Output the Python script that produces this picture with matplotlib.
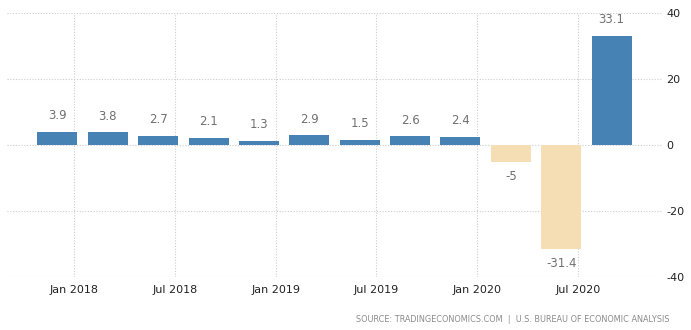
import matplotlib
matplotlib.use("Agg")
import matplotlib.pyplot as plt

# Quarterly GDP growth rate, annualized (%)
quarters = ["2017Q4", "2018Q1", "2018Q2", "2018Q3", "2018Q4", "2019Q1",
            "2019Q2", "2019Q3", "2019Q4", "2020Q1", "2020Q2", "2020Q3"]
values = [3.9, 3.8, 2.7, 2.1, 1.3, 2.9, 1.5, 2.6, 2.4, -5, -31.4, 33.1]

tick_labels = ["Jan 2018", "Jul 2018", "Jan 2019", "Jul 2019", "Jan 2020", "Jul 2020"]
y_ticks = [-40, -20, 0, 20, 40]

# x positions in months relative to Jan 2018; each quarter sits on its last month
positions = [3 * i - 1 for i in range(len(quarters))]
tick_pos = [6 * i for i in range(len(tick_labels))]

pos_color = "#4682b4"
neg_color = "#f5deb3"
colors = [pos_color if v >= 0 else neg_color for v in values]

fig = plt.figure(figsize=(6.91, 3.30), dpi=100)
ax = fig.add_axes([7 / 691, 53 / 330, 655 / 691, 264 / 330])

ax.bar(positions, values, width=2.38, color=colors, zorder=2)

ax.set_xlim(-4, 35)
ax.set_ylim(-40, 40)

ax.set_xticks(tick_pos)
ax.set_xticklabels(tick_labels, fontsize=8, color="#222222")
ax.set_yticks(y_ticks)
ax.set_yticklabels([str(t) for t in y_ticks], fontsize=8, color="#222222")
ax.yaxis.tick_right()
ax.tick_params(axis="both", length=0)
ax.tick_params(axis="x", pad=6)
ax.tick_params(axis="y", pad=3)

ax.grid(True, color="#cccccc", linestyle=(0, (1, 1.5)), linewidth=0.8, zorder=0)
for s in ax.spines.values():
    s.set_visible(False)

for x, v in zip(positions, values):
    label = f"{v:g}"
    if v >= 0:
        ax.annotate(label, (x, v), xytext=(0, 7), textcoords="offset points",
                    ha="center", va="bottom", fontsize=8.5, color="#707070")
    else:
        ax.annotate(label, (x, v), xytext=(0, -6), textcoords="offset points",
                    ha="center", va="top", fontsize=8.5, color="#707070")

fig.text(670 / 691, 1 - 319 / 330,
         "SOURCE: TRADINGECONOMICS.COM  |  U.S. BUREAU OF ECONOMIC ANALYSIS",
         ha="right", va="center", fontsize=5.9, color="#8a8a8a")

fig.savefig("out.png", dpi=100)
